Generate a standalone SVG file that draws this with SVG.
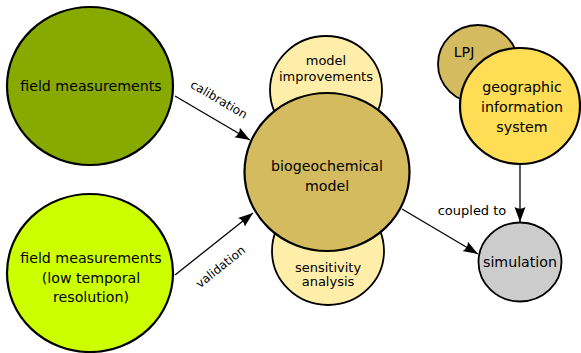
<svg xmlns="http://www.w3.org/2000/svg" width="581" height="353" viewBox="0 0 581 353">
<style>
text{font-family:"DejaVu Sans","Verdana",sans-serif;fill:#000;text-anchor:middle}
.big{font-size:14.2px}
.sm{font-size:13px}
.lbl{font-size:12px}
.node{stroke:#000;stroke-width:2.2}
.thin{stroke:#000;stroke-width:1.8}
.conn{stroke:#000;stroke-width:1.3;fill:none;marker-end:url(#ah)}
</style>
<defs>
<marker id="ah" markerUnits="userSpaceOnUse" markerWidth="16" markerHeight="12" viewBox="-15 -6 16 12" refX="0" refY="0" orient="auto">
<path d="M0,0 L-15,-5.5 Q-11.5,0 -15,5.5 Z" fill="#000"/>
</marker>
</defs>
<g id="model-improvements"><ellipse class="thin" cx="326" cy="90" rx="56" ry="54" fill="#ffeeaa"/>
<text class="sm" x="326" y="65">model</text><text class="sm" x="326" y="81">improvements</text></g>
<g id="sensitivity-analysis"><ellipse class="thin" cx="328" cy="251" rx="56" ry="54" fill="#ffeeaa"/>
<text class="sm" x="328" y="272">sensitivity</text><text class="sm" x="328" y="286">analysis</text></g>
<g id="biogeochemical-model"><ellipse class="node" cx="327" cy="172" rx="82.5" ry="79" fill="#d4bb5f"/>
<text class="big" x="327" y="171">biogeochemical</text><text class="big" x="327" y="191">model</text></g>
<g id="field-measurements"><ellipse class="node" cx="90" cy="86" rx="83" ry="79" fill="#88aa00"/>
<text class="big" x="91" y="91">field measurements</text></g>
<g id="field-measurements-low"><ellipse class="node" cx="90" cy="273" rx="83" ry="79" fill="#ccff00"/>
<text class="big" x="91" y="263">field measurements</text><text class="big" x="91" y="283">(low temporal</text><text class="big" x="91" y="302">resolution)</text></g>
<g id="lpj"><ellipse class="thin" cx="478" cy="64" rx="40" ry="39" fill="#d4bb5f"/>
<text class="big" x="464" y="57">LPJ</text></g>
<g id="gis"><ellipse class="node" cx="520" cy="106" rx="60" ry="58" fill="#ffdd55"/>
<text class="big" x="522" y="92">geographic</text><text class="big" x="522" y="112">information</text><text class="big" x="522" y="132">system</text></g>
<g id="simulation"><ellipse class="thin" cx="520" cy="262" rx="41.5" ry="39.5" fill="#cccccc"/>
<text class="big" x="520" y="267">simulation</text></g>
<g id="connectors">
<line class="conn" x1="175" y1="96" x2="250" y2="140"/>
<line class="conn" x1="175" y1="275" x2="253" y2="213"/>
<line class="conn" x1="402" y1="209" x2="478" y2="254"/>
<line class="conn" x1="520" y1="164" x2="520" y2="222"/>
<text class="lbl" transform="translate(217,103) rotate(30.4)">calibration</text>
<text class="lbl" transform="translate(223,270) rotate(-38.5)">validation</text>
<text class="sm" x="472" y="215">coupled to</text>
</g>
</svg>
